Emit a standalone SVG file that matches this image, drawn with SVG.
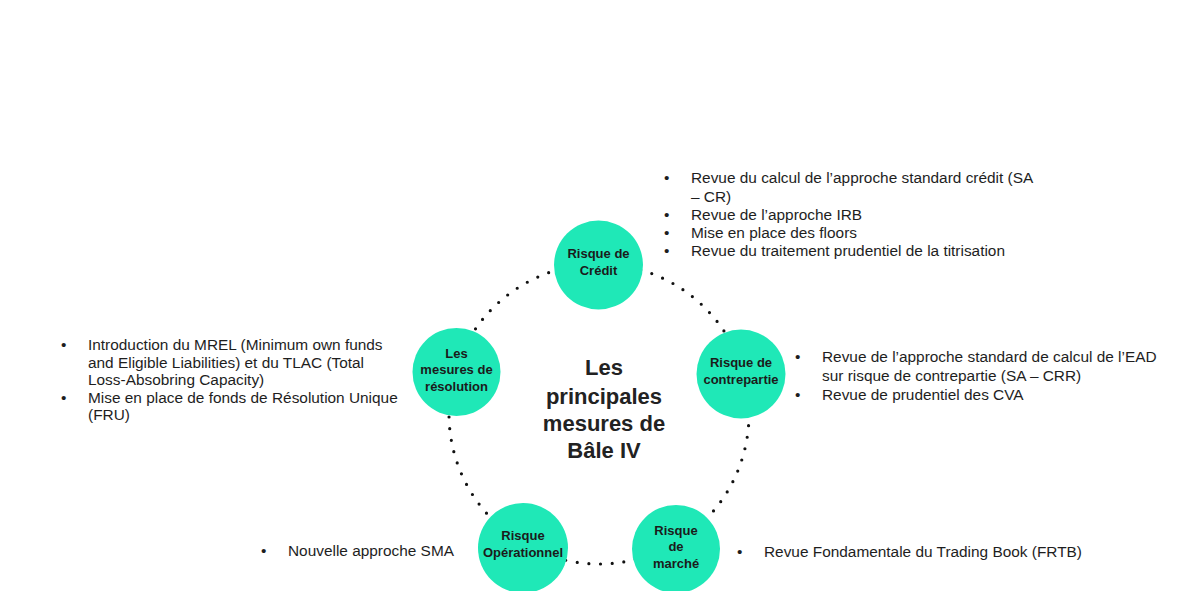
<svg xmlns="http://www.w3.org/2000/svg" width="1200" height="591" viewBox="0 0 1200 591">
<style>
.node{fill:#1fe8b7}
.nl{font-family:"Liberation Sans",Arial,sans-serif;font-weight:bold;font-size:13px;fill:#1b1b1b;text-anchor:middle}
.title{font-family:"Liberation Sans",Arial,sans-serif;font-weight:bold;font-size:22px;fill:#222;text-anchor:middle}
.b{font-family:"Liberation Sans",Arial,sans-serif;font-size:15.4px;fill:#1e1e1e}
.ring{fill:none;stroke:#111;stroke-width:3.2;stroke-linecap:round;stroke-dasharray:0 11.7}
</style>
<rect width="1200" height="591" fill="#fff"/>
<g id="connectors">
<circle class="ring" cx="599" cy="414" r="150"/>
</g>
<g id="credit">
<circle class="node" cx="598.5" cy="265" r="44.5"/>
<text class="nl" x="598.5" y="258">Risque de</text>
<text class="nl" x="598.5" y="275">Crédit</text>
</g>
<g id="contrepartie">
<circle class="node" cx="741" cy="374" r="44.5"/>
<text class="nl" x="741" y="367">Risque de</text>
<text class="nl" x="741" y="384">contrepartie</text>
</g>
<g id="resolution">
<circle class="node" cx="456.5" cy="372" r="44"/>
<text class="nl" x="456.5" y="358">Les</text>
<text class="nl" x="456.5" y="374">mesures de</text>
<text class="nl" x="456.5" y="391">résolution</text>
</g>
<g id="operationnel">
<circle class="node" cx="523" cy="548" r="45"/>
<text class="nl" x="523" y="540">Risque</text>
<text class="nl" x="523" y="557">Opérationnel</text>
</g>
<g id="marche">
<circle class="node" cx="676" cy="549" r="44"/>
<text class="nl" x="676" y="535">Risque</text>
<text class="nl" x="676" y="551">de</text>
<text class="nl" x="676" y="568">marché</text>
</g>
<g id="center">
<text class="title" x="604" y="375">Les</text>
<text class="title" x="604" y="404">principales</text>
<text class="title" x="604" y="431">mesures de</text>
<text class="title" x="604" y="458">Bâle IV</text>
</g>
<g id="list-credit">
<text class="b" x="664" y="183">•</text>
<text class="b" x="691" y="183">Revue du calcul de l’approche standard crédit (SA</text>
<text class="b" x="691" y="202">– CR)</text>
<text class="b" x="664" y="220">•</text>
<text class="b" x="691" y="220">Revue de l’approche IRB</text>
<text class="b" x="664" y="238">•</text>
<text class="b" x="691" y="238">Mise en place des floors</text>
<text class="b" x="664" y="256">•</text>
<text class="b" x="691" y="256">Revue du traitement prudentiel de la titrisation</text>
</g>
<g id="list-contrepartie">
<text class="b" x="795" y="362">•</text>
<text class="b" x="822" y="362">Revue de l’approche standard de calcul de l’EAD</text>
<text class="b" x="822" y="381">sur risque de contrepartie (SA – CRR)</text>
<text class="b" x="795" y="400">•</text>
<text class="b" x="822" y="400">Revue de prudentiel des CVA</text>
</g>
<g id="list-resolution">
<text class="b" x="61" y="350">•</text>
<text class="b" x="88" y="350">Introduction du MREL (Minimum own funds</text>
<text class="b" x="88" y="368">and Eligible Liabilities) et du TLAC (Total</text>
<text class="b" x="88" y="385">Loss-Absobring Capacity)</text>
<text class="b" x="61" y="403">•</text>
<text class="b" x="88" y="403">Mise en place de fonds de Résolution Unique</text>
<text class="b" x="88" y="420">(FRU)</text>
</g>
<g id="list-operationnel">
<text class="b" x="261" y="556">•</text>
<text class="b" x="288" y="556">Nouvelle approche SMA</text>
</g>
<g id="list-marche">
<text class="b" x="737" y="557">•</text>
<text class="b" x="764" y="557">Revue Fondamentale du Trading Book (FRTB)</text>
</g>
</svg>
